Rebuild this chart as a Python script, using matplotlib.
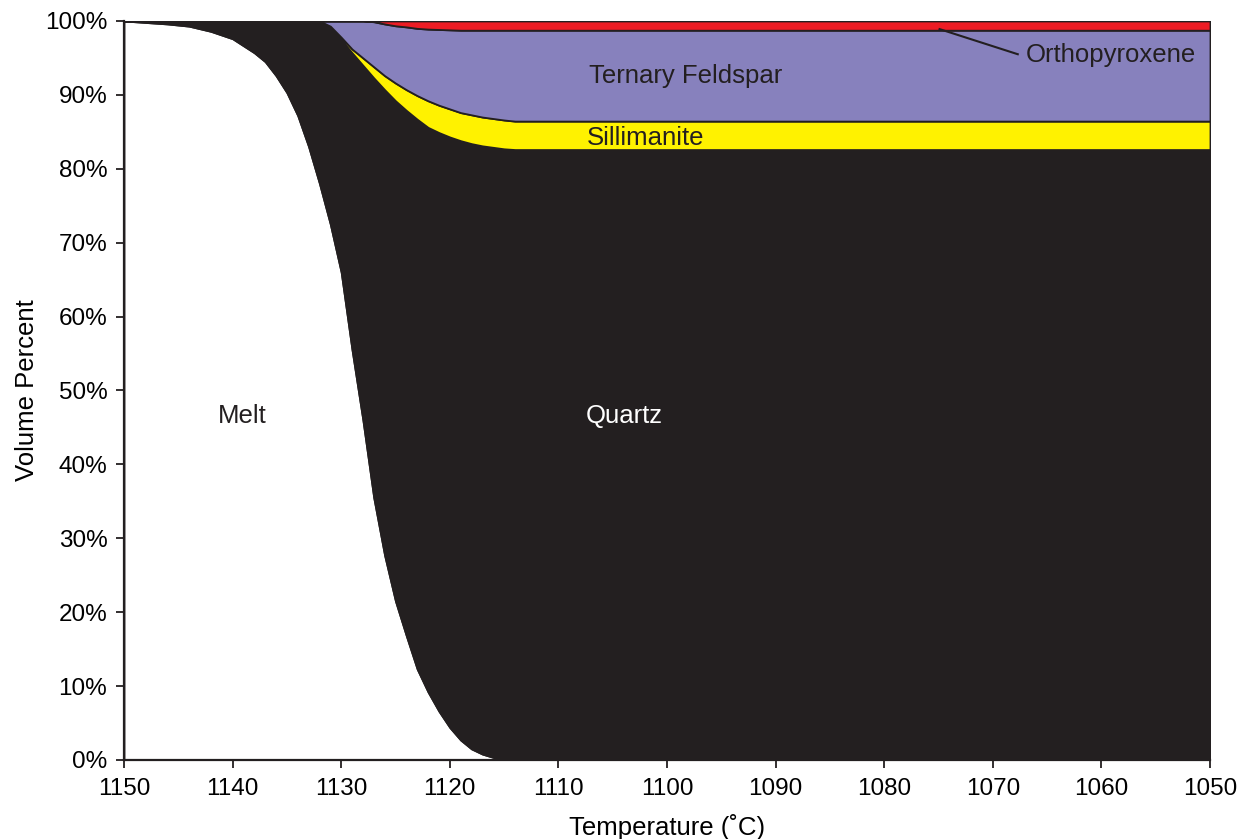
import numpy as np
import matplotlib
matplotlib.use("Agg")
import matplotlib.pyplot as plt

plt.rcParams['font.family'] = ['Liberation Sans', 'DejaVu Sans']

# temperature steps (C) and volume percent of each phase
temp = [1150, 1148, 1146, 1144, 1142, 1140, 1138, 1137, 1136, 1135, 1134, 1133,
        1132, 1131, 1130, 1129, 1128, 1127, 1126, 1125, 1124, 1123, 1122, 1121,
        1120, 1119, 1118, 1117, 1116, 1115, 1114, 1113, 1050]
melt = [100, 99.8, 99.6, 99.3, 98.6, 97.6, 95.7, 94.5, 92.6, 90.3, 87.2, 83.0,
        78.0, 72.5, 66.0, 55.5, 46.0, 35.5, 27.7, 21.5, 16.8, 12.3, 9.2, 6.6,
        4.4, 2.7, 1.5, 0.8, 0.35, 0.1, 0, 0, 0]
quartz = [0, 0.2, 0.4, 0.7, 1.4, 2.4, 4.3, 5.5, 7.4, 9.7, 12.8, 17.0,
          22.0, 26.5, 31.5, 40.2, 48.0, 56.8, 63.0, 67.7, 71.1, 74.4, 76.4, 78.3,
          79.9, 81.1, 81.9, 82.3, 82.55, 82.6, 82.6, 82.6, 82.6]
sillimanite = [0, 0, 0, 0, 0, 0, 0, 0, 0, 0, 0, 0,
               0, 0.3, 0.3, 0.5, 1.0, 1.5, 1.9, 2.4, 2.8, 3.2, 3.6, 3.7,
               3.8, 3.8, 3.9, 3.9, 3.9, 3.9, 3.85, 3.85, 3.85]
feldspar = [0, 0, 0, 0, 0, 0, 0, 0, 0, 0, 0, 0,
            0, 0.7, 2.2, 3.8, 5.0, 6.1, 7.0, 7.75, 8.5, 9.1, 9.7, 10.25,
            10.7, 11.15, 11.45, 11.75, 11.95, 12.15, 12.3, 12.3, 12.3]
opx = [0, 0, 0, 0, 0, 0, 0, 0, 0, 0, 0, 0,
       0, 0, 0, 0, 0, 0.1, 0.4, 0.65, 0.8, 1.0, 1.1, 1.15,
       1.2, 1.25, 1.25, 1.25, 1.25, 1.25, 1.25, 1.25, 1.25]

colors = ['white', '#231f20', '#fff200', '#8781bd', '#ed1c24']
ink = '#231f20'

fig = plt.figure(figsize=(12.4, 8.39), dpi=100)
ax = fig.add_axes([0.1, 0.0942, 0.8758, 0.8808])

ax.stackplot(temp, melt, quartz, sillimanite, feldspar, opx,
             colors=colors, edgecolor=ink, linewidth=1.3)

ax.set_xlim(1150, 1050)
ax.set_ylim(0, 100)
ax.set_xticks(np.arange(1150, 1049, -10))
ax.set_yticks(np.arange(0, 101, 10))
ax.set_yticklabels([f"{v}%" for v in range(0, 101, 10)])
ax.tick_params(axis='both', labelsize=17.5, length=6, width=1.3, color=ink)
ax.tick_params(axis='y', pad=6)
ax.tick_params(axis='x', pad=7)
ax.spines['top'].set_visible(False)
ax.spines['right'].set_visible(False)
ax.spines['left'].set_linewidth(1.6)
ax.spines['bottom'].set_linewidth(1.6)
ax.spines['left'].set_color(ink)
ax.spines['bottom'].set_color(ink)
ax.set_xlabel("Temperature (˚C)", fontsize=18.5, labelpad=10)
ax.set_ylabel("Volume Percent", fontsize=18.5, labelpad=4)

ax.text(1139.1, 45.6, "Melt", fontsize=18.5, ha='center', va='baseline', color=ink)
ax.text(1103.9, 45.6, "Quartz", fontsize=18.5, ha='center', va='baseline', color='white')
ax.text(1098.3, 91.6, "Ternary Feldspar", fontsize=18.5, ha='center', va='baseline', color=ink)
ax.text(1102.0, 83.2, "Sillimanite", fontsize=18.5, ha='center', va='baseline', color=ink)
ax.text(1067.0, 94.45, "Orthopyroxene", fontsize=18.5, ha='left', va='baseline', color=ink)
ax.plot([1074.9, 1067.7], [98.9, 95.5], color=ink, lw=1.5)

fig.savefig("out.png", dpi=100)
